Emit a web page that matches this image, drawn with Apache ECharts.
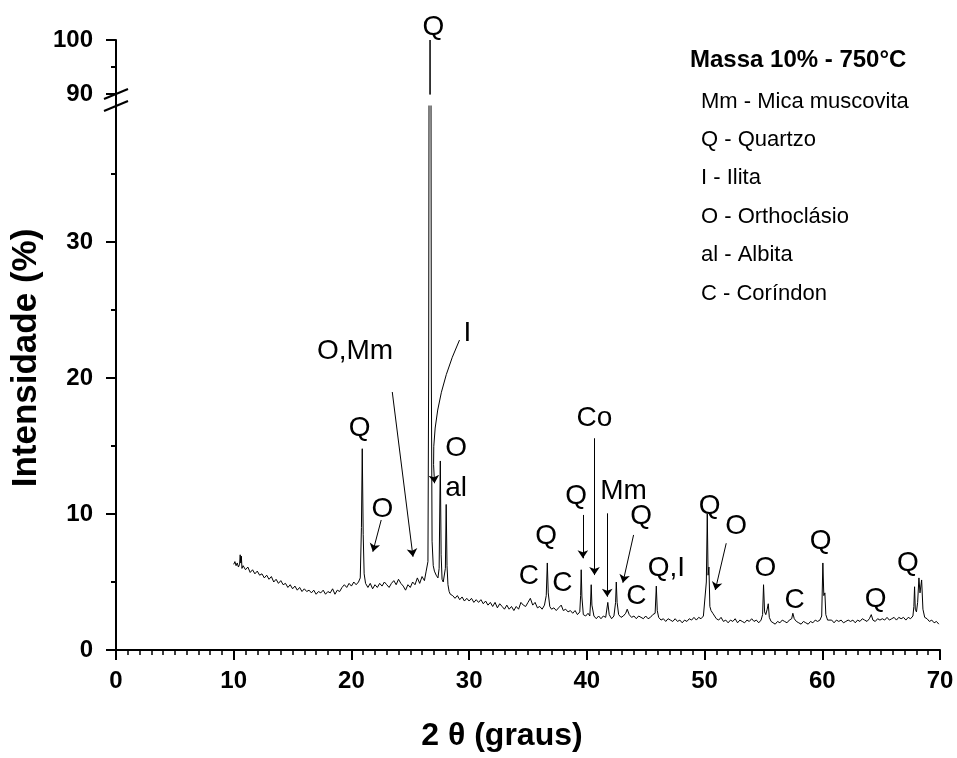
<!DOCTYPE html>
<html><head><meta charset="utf-8">
<script src="https://cdn.jsdelivr.net/npm/echarts@6/dist/echarts.min.js"></script>
<style>html,body{margin:0;padding:0;background:#fff}#c{width:957px;height:758px}</style>
</head><body><div id="c"></div>
<script>
// ---- data: 2θ (graus), intensidade (%) ----
const pattern = [
[10.0,6.3],[10.1,6.5],[10.2,6.2],[10.3,6.4],[10.4,6.1],[10.5,6.3],[10.55,7.0],[10.6,6.4],[10.65,6.9],[10.7,6.0],[10.8,6.2],
[11.0,5.9],[11.2,6.1],[11.4,5.7],[11.6,5.9],[11.8,5.6],[12.0,5.8],[12.2,5.5],[12.4,5.6],[12.6,5.3],[12.8,5.5],
[13.0,5.2],[13.2,5.4],[13.4,5.0],[13.6,5.2],[13.8,4.9],[14.0,5.1],[14.2,4.8],[14.4,4.9],[14.6,4.6],[14.8,4.8],
[15.0,4.5],[15.2,4.7],[15.4,4.4],[15.6,4.6],[15.8,4.3],[16.0,4.5],[16.2,4.3],[16.4,4.4],[16.6,4.2],[16.8,4.4],
[17.0,4.1],[17.2,4.3],[17.4,4.2],[17.6,4.4],[17.8,4.1],[18.0,4.3],[18.2,4.2],[18.4,4.5],[18.6,4.1],[18.8,4.4],
[19.0,4.3],[19.2,4.6],[19.4,4.8],[19.6,4.6],[19.8,4.9],[20.0,4.7],[20.2,5.0],[20.4,4.8],[20.6,5.0],[20.75,5.3],
[20.85,9.0],[20.92,14.8],[21.0,8.5],[21.08,5.6],[21.2,4.9],[21.4,4.6],[21.6,4.9],[21.8,4.5],[22.0,4.8],[22.2,4.6],
[22.4,4.9],[22.6,4.7],[22.8,5.0],[23.0,4.8],[23.2,4.6],[23.4,4.9],[23.6,5.1],[23.8,4.8],[24.0,5.2],[24.2,4.9],
[24.4,4.7],[24.6,4.4],[24.8,4.8],[25.0,4.6],[25.2,5.0],[25.4,4.8],[25.6,5.3],[25.8,4.9],[26.0,5.4],[26.2,5.1],
[26.35,5.8],[26.5,6.5],[26.56,20],[26.68,100],[26.79,20],[26.85,8.0],[26.95,6.2],[27.05,5.8],[27.2,5.5],[27.35,5.3],
[27.45,6.0],[27.55,13.9],[27.62,7.0],[27.7,5.2],[27.8,5.0],[27.9,5.1],[27.98,6.0],[28.05,10.7],[28.12,6.2],[28.2,4.8],
[28.3,4.3],[28.4,4.1],[28.6,4.0],[28.8,3.8],[29.0,4.0],[29.2,3.7],[29.4,3.9],[29.6,3.6],[29.8,3.8],[30.0,3.6],
[30.2,3.8],[30.4,3.5],[30.6,3.7],[30.8,3.5],[31.0,3.7],[31.2,3.4],[31.4,3.6],[31.6,3.3],[31.8,3.5],[32.0,3.2],
[32.2,3.5],[32.4,3.1],[32.6,3.4],[32.8,3.2],[33.0,3.0],[33.2,3.3],[33.4,3.0],[33.6,3.2],[33.8,2.9],[34.0,3.2],
[34.2,3.0],[34.4,3.5],[34.6,3.3],[34.8,3.2],[35.0,3.5],[35.2,3.8],[35.4,3.3],[35.6,3.5],[35.8,3.1],[36.0,3.2],
[36.2,3.0],[36.4,3.3],[36.55,4.0],[36.64,6.4],[36.72,4.2],[36.85,3.2],[37.0,3.0],[37.2,3.1],[37.4,2.9],[37.6,3.1],
[37.82,3.3],[38.0,2.9],[38.2,3.0],[38.4,2.8],[38.6,2.9],[38.8,2.7],[39.0,2.9],[39.2,2.6],[39.4,2.8],[39.47,4.0],
[39.52,5.9],[39.58,3.9],[39.7,2.6],[39.9,2.5],[40.1,2.7],[40.25,2.5],[40.32,3.6],[40.37,4.8],[40.43,3.3],[40.6,2.5],
[40.8,2.3],[41.0,2.5],[41.2,2.3],[41.4,2.5],[41.6,2.4],[41.78,3.5],[41.9,2.6],[42.1,2.3],[42.3,2.5],[42.44,3.5],
[42.5,5.0],[42.57,3.5],[42.7,2.6],[42.9,2.4],[43.1,2.5],[43.3,2.7],[43.43,3.0],[43.6,2.6],[43.8,2.4],[44.0,2.5],
[44.2,2.3],[44.4,2.5],[44.6,2.4],[44.8,2.3],[45.0,2.5],[45.2,2.3],[45.4,2.4],[45.6,2.6],[45.8,2.7],[45.9,4.7],
[45.98,2.9],[46.1,2.4],[46.3,2.2],[46.5,2.3],[46.7,2.1],[46.9,2.3],[47.1,2.2],[47.3,2.1],[47.5,2.3],[47.7,2.1],
[47.9,2.2],[48.1,2.0],[48.3,2.2],[48.5,2.1],[48.7,2.3],[48.9,2.2],[49.1,2.4],[49.3,2.2],[49.5,2.4],[49.7,2.3],
[49.9,2.5],[50.05,2.6],[50.15,5.0],[50.23,10.0],[50.3,5.5],[50.37,6.1],[50.45,3.2],[50.55,2.9],[50.7,2.7],[50.85,2.5],
[51.0,2.3],[51.2,2.2],[51.4,2.4],[51.6,2.1],[51.8,2.2],[52.0,2.0],[52.2,2.2],[52.4,2.1],[52.6,2.3],[52.8,2.0],
[53.0,2.2],[53.2,2.1],[53.4,2.0],[53.6,2.2],[53.8,2.1],[54.0,2.3],[54.2,2.1],[54.4,2.2],[54.6,2.0],[54.8,2.2],
[54.93,2.6],[55.01,4.8],[55.1,2.8],[55.2,2.6],[55.32,3.0],[55.41,3.4],[55.5,2.4],[55.65,2.1],[55.8,2.0],[56.0,1.9],
[56.2,2.1],[56.4,2.0],[56.6,2.2],[56.8,2.1],[57.0,2.0],[57.2,2.2],[57.4,2.3],[57.5,2.7],[57.62,2.3],[57.8,2.1],
[58.0,2.0],[58.2,1.9],[58.4,2.1],[58.6,2.0],[58.8,1.9],[59.0,2.1],[59.2,2.0],[59.4,2.2],[59.6,2.1],[59.8,2.2],
[59.95,2.5],[60.05,6.4],[60.13,4.0],[60.22,4.2],[60.3,2.6],[60.45,2.2],[60.6,2.1],[60.8,2.2],[61.0,2.0],[61.2,2.2],
[61.4,2.1],[61.6,2.2],[61.8,2.0],[62.0,2.1],[62.2,2.2],[62.4,2.1],[62.6,2.2],[62.8,2.0],[63.0,2.2],[63.2,2.1],
[63.4,2.3],[63.6,2.2],[63.8,2.1],[64.0,2.3],[64.16,2.6],[64.3,2.2],[64.5,2.1],[64.7,2.3],[64.9,2.2],[65.1,2.3],
[65.3,2.2],[65.5,2.4],[65.7,2.2],[65.9,2.3],[66.1,2.4],[66.3,2.2],[66.5,2.4],[66.7,2.3],[66.9,2.4],[67.1,2.2],
[67.3,2.4],[67.5,2.3],[67.7,2.5],[67.78,3.2],[67.84,4.65],[67.9,3.0],[68.0,2.8],[68.1,3.5],[68.21,5.3],[68.3,4.2],
[68.44,5.15],[68.55,3.0],[68.7,2.4],[68.9,2.3],[69.1,2.1],[69.3,2.2],[69.5,2.0],[69.7,2.1],[69.9,1.9]
];

const xTickValues = [0, 10, 20, 30, 40, 50, 60, 70];
const yLowTickValues = [0, 10, 20, 30];
const yHighTickValues = [90, 100];

// phase labels (text, 2θ, intensity)
const annText = ['O,Mm','I','Q','O','O','al','Co','Q','C','C','Q','Mm','Q','C','Q,I','Q','O','O','C','Q','Q','Q'];
const annX    = [20.31,29.86,20.69,22.62,28.9,28.9,40.65,36.55,35.07,37.91,39.1,43.12,44.62,44.2,46.75,50.42,52.69,55.16,57.65,59.86,64.53,67.27];
const annY    = [21.99,23.31,16.32,10.37,14.85,11.91,17.06,8.33,5.39,4.9,11.27,11.64,9.8,3.92,6.01,10.54,9.07,6.01,3.68,7.96,3.73,6.38];
const topLabelText = ['Q'];
const topLabelX = [26.97];
const topLabelY = [102.4];

// arrows (from -> to) in data coords
const arrowFrom  = [[22.53,9.56],[23.47,18.97],[29.18,22.79],[39.66,9.93],[40.65,15.57],[41.73,10.05],[43.97,8.46],[51.84,7.85]];
const arrowTo    = [[21.82,7.23],[25.23,6.86],[27.06,12.26],[39.66,6.74],[40.65,5.51],[41.73,3.92],[43.06,4.95],[50.91,4.41]];
const arrowCurve = [0,0,-0.13,0,0,0,0,0];

const legendTitle = 'Massa 10% - 750°C';
const legendItems = ['Mm - Mica muscovita','Q - Quartzo','I - Ilita','O - Orthoclásio','al - Albita','C - Coríndon'];

const FONT = "'Liberation Sans', Arial, sans-serif";

const chart = echarts.init(document.getElementById('c'), null, {renderer: 'canvas'});

const axisLineStyle = {color: '#000', width: 2};
const tickLabel = {color: '#000', fontSize: 24, fontWeight: 'bold', fontFamily: FONT};
const annLabel = {show: true, position: 'inside', formatter: p => p.name, color: '#000', fontSize: 28, fontFamily: FONT, opacity: 1};

const option = {
  backgroundColor: '#fff',
  animation: false,
  grid: [
    {left: 116, right: 17, top: 40, height: 54, containLabel: false},
    {left: 116, right: 17, top: 106, bottom: 108, containLabel: false}
  ],
  xAxis: [
    {gridIndex: 0, type: 'value', min: 0, max: 70, show: false},
    {gridIndex: 1, type: 'value', min: 0, max: 70, interval: 10,
     axisLine: {show: true, onZero: false, lineStyle: axisLineStyle},
     axisTick: {show: true, length: 10, lineStyle: {color: '#000', width: 2}},
     minorTick: {show: true, splitNumber: 10, length: 5, lineStyle: {color: '#000', width: 1.5}},
     axisLabel: Object.assign({margin: 19, formatter: v => xTickValues.includes(v) ? String(v) : ''}, tickLabel),
     splitLine: {show: false}}
  ],
  yAxis: [
    {gridIndex: 0, type: 'value', min: 90, max: 100, interval: 10,
     axisLine: {show: true, onZero: false, lineStyle: axisLineStyle},
     axisTick: {show: true, length: 10, lineStyle: {color: '#000', width: 2}},
     minorTick: {show: true, splitNumber: 2, length: 5, lineStyle: {color: '#000', width: 2}},
     axisLabel: Object.assign({margin: 23, formatter: v => yHighTickValues.includes(v) ? String(v) : ''}, tickLabel),
     splitLine: {show: false}},
    {gridIndex: 1, type: 'value', min: 0, max: 40, interval: 10,
     axisLine: {show: true, onZero: false, lineStyle: axisLineStyle},
     axisTick: {show: true, length: 10, lineStyle: {color: '#000', width: 2}, customValues: yLowTickValues},
     minorTick: {show: true, splitNumber: 2, length: 5, lineStyle: {color: '#000', width: 2}},
     axisLabel: Object.assign({margin: 23, customValues: yLowTickValues, formatter: v => yLowTickValues.includes(v) ? String(v) : ''}, tickLabel),
     splitLine: {show: false}}
  ],
  series: [
    {type: 'line', xAxisIndex: 0, yAxisIndex: 0, data: pattern, showSymbol: false, symbol: 'none',
     lineStyle: {color: '#000', width: 1}, clip: true, silent: true},
    {type: 'line', xAxisIndex: 1, yAxisIndex: 1, data: pattern, showSymbol: false, symbol: 'none',
     lineStyle: {color: '#000', width: 1}, clip: true, silent: true},
    {type: 'scatter', xAxisIndex: 1, yAxisIndex: 1, symbolSize: 0, clip: false, silent: true,
     itemStyle: {opacity: 1, color: '#000'},
     data: annText.map((t, i) => ({name: t, value: [annX[i], annY[i]]})),
     label: annLabel},
    {type: 'scatter', xAxisIndex: 0, yAxisIndex: 0, symbolSize: 0, clip: false, silent: true,
     itemStyle: {opacity: 1, color: '#000'},
     data: topLabelText.map((t, i) => ({name: t, value: [topLabelX[i], topLabelY[i]]})),
     label: annLabel},
    {type: 'lines', coordinateSystem: 'cartesian2d', xAxisIndex: 1, yAxisIndex: 1, silent: true,
     symbol: ['none', 'arrow'], symbolSize: 8,
     lineStyle: {color: '#000', width: 1, opacity: 1},
     data: arrowFrom.map((f, i) => ({coords: [f, arrowTo[i]], lineStyle: {curveness: arrowCurve[i]}}))}
  ]
};
chart.setOption(option);

// axis break + titles + legend text
const pHiBottom = chart.convertToPixel({gridIndex: 0}, [0, 90]);
const pLoTop = chart.convertToPixel({gridIndex: 1}, [0, 40]);
const ax = pHiBottom[0];
const graphic = [
  {type: 'line', shape: {x1: ax, y1: pHiBottom[1], x2: ax, y2: pLoTop[1]}, style: {stroke: '#000', lineWidth: 2}},
  {type: 'line', shape: {x1: ax - 12, y1: pHiBottom[1] + 5, x2: ax + 12, y2: pHiBottom[1] - 5}, style: {stroke: '#000', lineWidth: 2}},
  {type: 'line', shape: {x1: ax - 12, y1: pLoTop[1] + 5, x2: ax + 12, y2: pLoTop[1] - 5}, style: {stroke: '#000', lineWidth: 2}},
  {type: 'text', x: 26, y: 358, rotation: Math.PI / 2,
   style: {text: 'Intensidade (%)', fill: '#000', font: 'bold 35px ' + FONT, textAlign: 'center', textVerticalAlign: 'middle'}},
  {type: 'text', x: 502, y: 736,
   style: {text: '2 θ (graus)', fill: '#000', font: 'bold 32px ' + FONT, textAlign: 'center', textVerticalAlign: 'middle'}},
  {type: 'text', x: 690, y: 60,
   style: {text: legendTitle, fill: '#000', font: 'bold 24px ' + FONT, textAlign: 'left', textVerticalAlign: 'middle'}}
];
const legendY = [101.5, 140, 178, 216.5, 254.7, 294];
legendItems.forEach((t, i) => graphic.push({type: 'text', x: 701, y: legendY[i],
  style: {text: t, fill: '#000', font: '22px ' + FONT, textAlign: 'left', textVerticalAlign: 'middle'}}));
chart.setOption({graphic: graphic});
</script>
</body></html>
